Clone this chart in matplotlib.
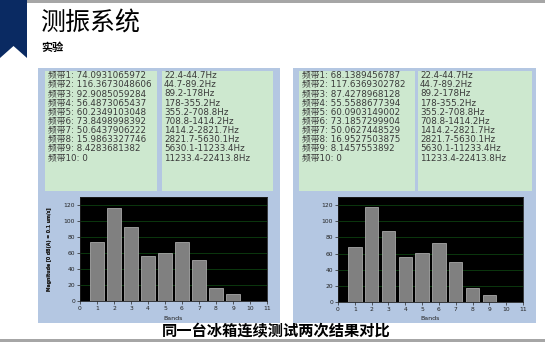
import matplotlib
matplotlib.use('Agg')
import matplotlib.pyplot as plt
from matplotlib.patches import Rectangle, Polygon

W, H = 545, 342

bands = [1, 2, 3, 4, 5, 6, 7, 8, 9, 10]
run1 = [74.0931065972, 116.3673048606, 92.9085059284, 56.4873065437, 60.2349103048,
        73.8498998392, 50.6437906222, 15.9863327746, 8.4283681382, 0]
run2 = [68.1389456787, 117.6369302782, 87.4278968128, 55.5588677394, 60.0903149002,
        73.1857299904, 50.0627448529, 16.9527503875, 8.1457553892, 0]
run1_txt = ['74.0931065972', '116.3673048606', '92.9085059284', '56.4873065437', '60.2349103048',
            '73.8498998392', '50.6437906222', '15.9863327746', '8.4283681382', '0']
run2_txt = ['68.1389456787', '117.6369302782', '87.4278968128', '55.5588677394', '60.0903149002',
            '73.1857299904', '50.0627448529', '16.9527503875', '8.1457553892', '0']
ranges = ['22.4-44.7Hz', '44.7-89.2Hz', '89.2-178Hz', '178-355.2Hz', '355.2-708.8Hz',
          '708.8-1414.2Hz', '1414.2-2821.7Hz', '2821.7-5630.1Hz', '5630.1-11233.4Hz',
          '11233.4-22413.8Hz']
yticks = [0, 20, 40, 60, 80, 100, 120]
xticks = list(range(0, 12))

BLUE = '#b4c7e2'
GREEN = '#cde8cf'
NAVY = '#0a2a62'
TXT = '#3a3a3a'
fams = ['DejaVu Sans', 'Noto Sans CJK SC']

fig = plt.figure(figsize=(W / 100, H / 100), dpi=100)
bg = fig.add_axes([0, 0, 1, 1])
bg.set_xlim(0, W)
bg.set_ylim(H, 0)
bg.axis('off')

# header
bg.add_patch(Rectangle((0, 0), W, 2.5, color='#a6a6a6', lw=0))
bg.add_patch(Polygon([(0, 0), (27, 0), (27, 58), (13.5, 46), (0, 58)], closed=True, color=NAVY, lw=0))
bg.text(40, 23, '测振系统', fontsize=18, family='Noto Sans CJK SC', va='center', ha='left', color='black')
bg.text(41, 47, '实验', fontsize=8, family='Noto Sans CJK SC', fontweight='bold', va='center', ha='left', color='black')
bg.add_patch(Rectangle((0, 339), W, 3, color='#a6a6a6', lw=0))


def panel(x0, x1, box1, box2, vals, labels, ax_box):
    bg.add_patch(Rectangle((x0, 68), x1 - x0, 255, color=BLUE, lw=0))
    for bx0, bx1 in (box1, box2):
        bg.add_patch(Rectangle((bx0, 71), bx1 - bx0, 120, color=GREEN, lw=0))
    for i, b in enumerate(bands):
        y = 75.7 + i * 9.15
        bg.text(box1[0] + 3.5, y, f'频带{b}: {labels[i]}', fontsize=6.3, family=fams,
                color=TXT, va='center', ha='left')
        bg.text(box2[0] + 2, y, ranges[i], fontsize=6.3, family=fams,
                color=TXT, va='center', ha='left')

    l, t, r, btm = ax_box
    ax = fig.add_axes([l / W, 1 - btm / H, (r - l) / W, (btm - t) / H])
    ax.set_facecolor('black')
    ax.bar(bands, vals, width=0.8, color='#808080', edgecolor='#a8a8a8', linewidth=0.6, zorder=3)
    ax.set_xlim(0, 11)
    ax.set_ylim(0, 130)
    ax.set_xticks(xticks)
    ax.set_yticks(yticks)
    ax.grid(axis='y', color='#0d4010', linewidth=0.6, zorder=0)
    ax.tick_params(labelsize=4.3, colors='#222222', length=2, width=0.5, pad=1.5)
    for s in ax.spines.values():
        s.set_linewidth(0.6)
        s.set_color('#202020')
    ax.set_ylabel('Magnitude [0 dB(A) = 0.1 um/s]', fontsize=3.3, fontweight='bold', color='#222222')
    ax.yaxis.set_label_coords((52 - l) / (r - l), 0.5)
    ax.set_xlabel('Bands', fontsize=4.5, color='#222222')
    ax.xaxis.set_label_coords(0.5, -(316 - btm) / (btm - t))


panel(38, 280, (45, 157), (162, 273), run1, run1_txt, (80, 197, 267, 301))
panel(293, 536, (299, 415), (418, 532), run2, run2_txt, (338, 197, 523, 302))

bg.text(276, 330, '同一台冰箱连续测试两次结果对比', fontsize=11, family='Noto Sans CJK SC',
        fontweight='bold', va='center', ha='center', color='black')

fig.savefig('out.png', dpi=100)
